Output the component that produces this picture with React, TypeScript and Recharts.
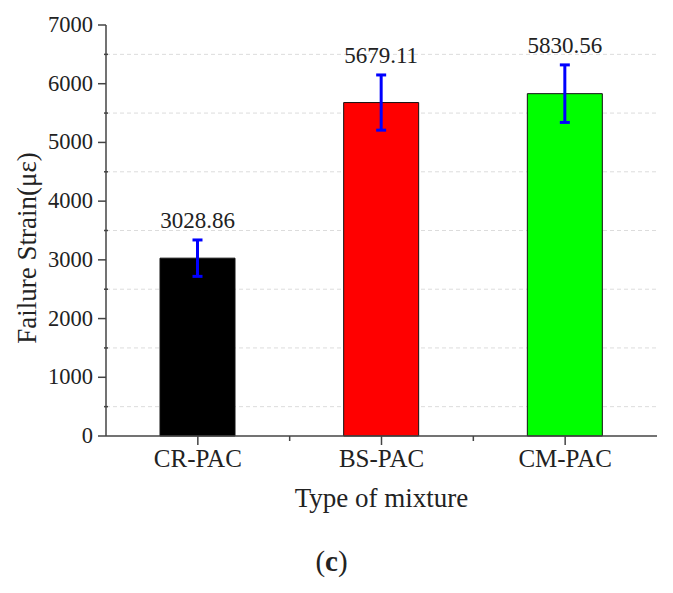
import React from 'react'
import {
  BarChart,
  Bar,
  XAxis,
  YAxis,
  CartesianGrid,
  ErrorBar,
  LabelList,
  Cell,
  Label,
} from 'recharts'

// Failure strain by mixture type, panel (c)
const categories = ['CR-PAC', 'BS-PAC', 'CM-PAC']
const strainValues = [3028.86, 5679.11, 5830.56]
const strainErrors = [310, 470, 490]
const barColors = ['#000000', '#ff0000', '#00ff00']
const yTicks = [0, 500, 1000, 1500, 2000, 2500, 3000, 3500, 4000, 4500, 5000, 5500, 6000, 6500, 7000]
const gridValues = [500, 1500, 2500, 3500, 4500, 5500, 6500]

const data = categories.map((name, i) => ({
  name,
  strain: strainValues[i],
  err: strainErrors[i],
}))

const W = 673
const H = 593
const FONT = '"Liberation Serif", "Times New Roman", serif'
const AXIS = '#444'
const TEXT = '#222'

// y ticks: labelled outward ticks every 1000, short crossing ticks at 500s
const YTick = ({ x, y, payload }: any) => {
  const major = payload.value % 1000 === 0
  if (!major) {
    return <line x1={x - 2} x2={x + 2} y1={y} y2={y} stroke={AXIS} strokeWidth={1.5} />
  }
  return (
    <g>
      <line x1={x - 8} x2={x} y1={y} y2={y} stroke={AXIS} strokeWidth={1.5} />
      <text x={x - 13} y={y + 7} textAnchor="end" fontSize={22.5} fontFamily={FONT} fill={TEXT}>
        {payload.value}
      </text>
    </g>
  )
}

// x ticks: major at category centre, minor at category boundary
const XTick = ({ x, y, payload, index }: any) => {
  const half = payload.offset || (W - 106 - 16) / categories.length / 2
  return (
    <g>
      <line x1={x} x2={x} y1={y} y2={y + 9} stroke={AXIS} strokeWidth={1.5} />
      {index < categories.length - 1 && (
        <line x1={x + half} x2={x + half} y1={y} y2={y + 5} stroke={AXIS} strokeWidth={1.5} />
      )}
      <text x={x} y={y + 31} textAnchor="middle" fontSize={25} fontFamily={FONT} fill={TEXT}>
        {payload.value}
      </text>
    </g>
  )
}

// value labels sit above the top of the error bar
const ValueLabel = ({ x, y, width, height, value, index }: any) => {
  const perUnit = height / value
  const errTop = y - strainErrors[index] * perUnit
  return (
    <text x={x + width / 2} y={errTop - 12} textAnchor="middle" fontSize={23} fontFamily={FONT} fill={TEXT}>
      {Number(value).toFixed(2)}
    </text>
  )
}

const YTitle = () => (
  <text
    x={0}
    y={0}
    transform="translate(36, 248) rotate(-90)"
    textAnchor="middle"
    fontSize={27}
    fontFamily={FONT}
    fill={TEXT}
  >
    Failure Strain(με)
  </text>
)

export default function App() {
  return (
    <div style={{ margin: -8, width: W, height: H, position: 'relative', background: '#fff' }}>
      <BarChart
        width={W}
        height={H}
        data={data}
        margin={{ top: 25, right: 16, left: 0, bottom: 77 }}
        barSize={75}
      >
        <CartesianGrid
          horizontal
          vertical={false}
          horizontalValues={gridValues}
          stroke="#dcdcdc"
          strokeDasharray="4 3"
        />
        <XAxis
          dataKey="name"
          height={80}
          interval={0}
          tickSize={0}
          tickMargin={0}
          tickLine={false}
          tick={<XTick />}
          axisLine={{ stroke: AXIS, strokeWidth: 1.5 }}
        >
          <Label
            value="Type of mixture"
            position="insideBottom"
            offset={9}
            fontSize={27}
            fontFamily={FONT}
            fill={TEXT}
          />
        </XAxis>
        <XAxis
          xAxisId="top"
          dataKey="name"
          orientation="top"
          height={0}
          tick={false}
          tickLine={false}
          axisLine={{ stroke: AXIS, strokeWidth: 1.5 }}
        />
        <YAxis
          width={106}
          domain={[0, 7000]}
          ticks={yTicks}
          interval={0}
          tickSize={0}
          tickMargin={0}
          tickLine={false}
          tick={<YTick />}
          axisLine={{ stroke: AXIS, strokeWidth: 1.5 }}
          label={<YTitle />}
        />
        <YAxis
          yAxisId="right"
          orientation="right"
          width={0}
          domain={[0, 7000]}
          tick={false}
          tickLine={false}
          axisLine={{ stroke: AXIS, strokeWidth: 1.5 }}
        />
        <Bar dataKey="strain" stroke="#111" strokeWidth={1} isAnimationActive={false}>
          {data.map((d, i) => (
            <Cell key={d.name} fill={barColors[i]} />
          ))}
          <ErrorBar dataKey="err" direction="y" width={5} stroke="#0000ff" strokeWidth={3} />
          <LabelList dataKey="strain" content={<ValueLabel />} />
        </Bar>
      </BarChart>
      <div
        style={{
          position: 'absolute',
          left: 0,
          width: W,
          top: 545,
          textAlign: 'center',
          fontFamily: FONT,
          fontSize: 29,
          color: TEXT,
        }}
      >
        <span style={{ marginLeft: -10 }}>
          (<b>c</b>)
        </span>
      </div>
    </div>
  )
}
